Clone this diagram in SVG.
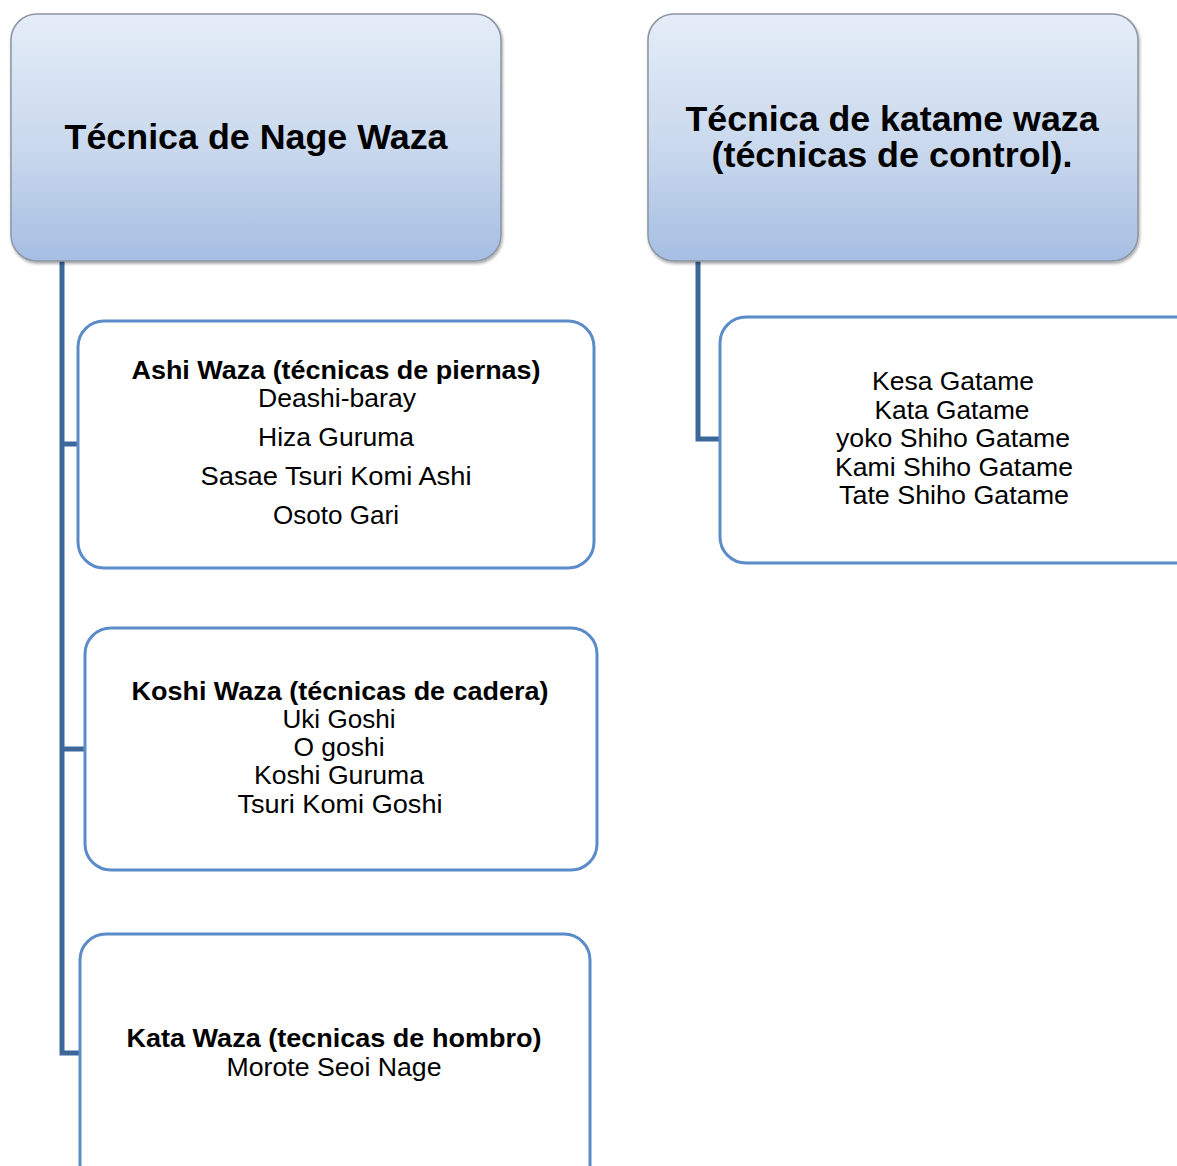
<svg xmlns="http://www.w3.org/2000/svg" width="1177" height="1166" viewBox="0 0 1177 1166">
<defs>
<linearGradient id="hg" x1="0" y1="0" x2="0" y2="1">
<stop offset="0" stop-color="#e5edf8"/>
<stop offset="0.55" stop-color="#c9d8ed"/>
<stop offset="1" stop-color="#a5bee2"/>
</linearGradient>
<filter id="sh" x="-5%" y="-5%" width="110%" height="110%">
<feDropShadow dx="1" dy="2" stdDeviation="1.5" flood-color="#000" flood-opacity="0.35"/>
</filter>
</defs>
<style>
.hdr{fill:url(#hg);stroke:#8c95a3;stroke-width:1.5;filter:url(#sh)}
.box{fill:#ffffff;stroke:#5b8bc8;stroke-width:3}
.con{fill:none;stroke:#3d6699;stroke-width:5}
text{font-family:"Liberation Sans",Arial,sans-serif;fill:#000;text-anchor:middle}
.h{font-size:35px;font-weight:bold}
.b{font-size:25px;font-weight:bold}
.t{font-size:26px}
</style>
<rect width="1177" height="1166" fill="#fff"/>
<g id="connectors">
<path class="con" d="M62 261 V1053 H80 M62 444 H79 M62 749 H85"/>
<path class="con" d="M698 261 V439 H720"/>
</g>
<g id="nage">
<rect class="hdr" x="11" y="14" width="490" height="247" rx="26"/>
<text class="h" x="256" y="149" textLength="383" lengthAdjust="spacingAndGlyphs">Técnica de Nage Waza</text>
</g>
<g id="katame">
<rect class="hdr" x="648" y="14" width="490" height="247" rx="26"/>
<text class="h" x="892" y="131" textLength="413" lengthAdjust="spacingAndGlyphs">Técnica de katame waza</text>
<text class="h" x="892" y="167" textLength="361" lengthAdjust="spacingAndGlyphs">(técnicas de control).</text>
</g>
<g id="ashi">
<rect class="box" x="78" y="321" width="516" height="247" rx="26"/>
<text class="b" x="336" y="379" textLength="409" lengthAdjust="spacingAndGlyphs">Ashi Waza (técnicas de piernas)</text>
<text class="t" x="337" y="407" textLength="158" lengthAdjust="spacingAndGlyphs">Deashi-baray</text>
<text class="t" x="336" y="446" textLength="156" lengthAdjust="spacingAndGlyphs">Hiza Guruma</text>
<text class="t" x="336" y="485" textLength="271" lengthAdjust="spacingAndGlyphs">Sasae Tsuri Komi Ashi</text>
<text class="t" x="336" y="524" textLength="126" lengthAdjust="spacingAndGlyphs">Osoto Gari</text>
</g>
<g id="koshi">
<rect class="box" x="85" y="628" width="512" height="242" rx="26"/>
<text class="b" x="340" y="700" textLength="417" lengthAdjust="spacingAndGlyphs">Koshi Waza (técnicas de cadera)</text>
<text class="t" x="339" y="728" textLength="113" lengthAdjust="spacingAndGlyphs">Uki Goshi</text>
<text class="t" x="339" y="756" textLength="91" lengthAdjust="spacingAndGlyphs">O goshi</text>
<text class="t" x="339" y="784" textLength="170" lengthAdjust="spacingAndGlyphs">Koshi Guruma</text>
<text class="t" x="340" y="813" textLength="205" lengthAdjust="spacingAndGlyphs">Tsuri Komi Goshi</text>
</g>
<g id="kata">
<rect class="box" x="80" y="934" width="510" height="260" rx="26"/>
<text class="b" x="334" y="1047" textLength="415" lengthAdjust="spacingAndGlyphs">Kata Waza (tecnicas de hombro)</text>
<text class="t" x="334" y="1076" textLength="215" lengthAdjust="spacingAndGlyphs">Morote Seoi Nage</text>
</g>
<g id="control">
<rect class="box" x="720" y="317" width="490" height="246" rx="26"/>
<text class="t" x="953" y="390" textLength="162" lengthAdjust="spacingAndGlyphs">Kesa Gatame</text>
<text class="t" x="952" y="419" textLength="155" lengthAdjust="spacingAndGlyphs">Kata Gatame</text>
<text class="t" x="953" y="447" textLength="234" lengthAdjust="spacingAndGlyphs">yoko Shiho Gatame</text>
<text class="t" x="954" y="476" textLength="238" lengthAdjust="spacingAndGlyphs">Kami Shiho Gatame</text>
<text class="t" x="954" y="504" textLength="230" lengthAdjust="spacingAndGlyphs">Tate Shiho Gatame</text>
</g>
</svg>
